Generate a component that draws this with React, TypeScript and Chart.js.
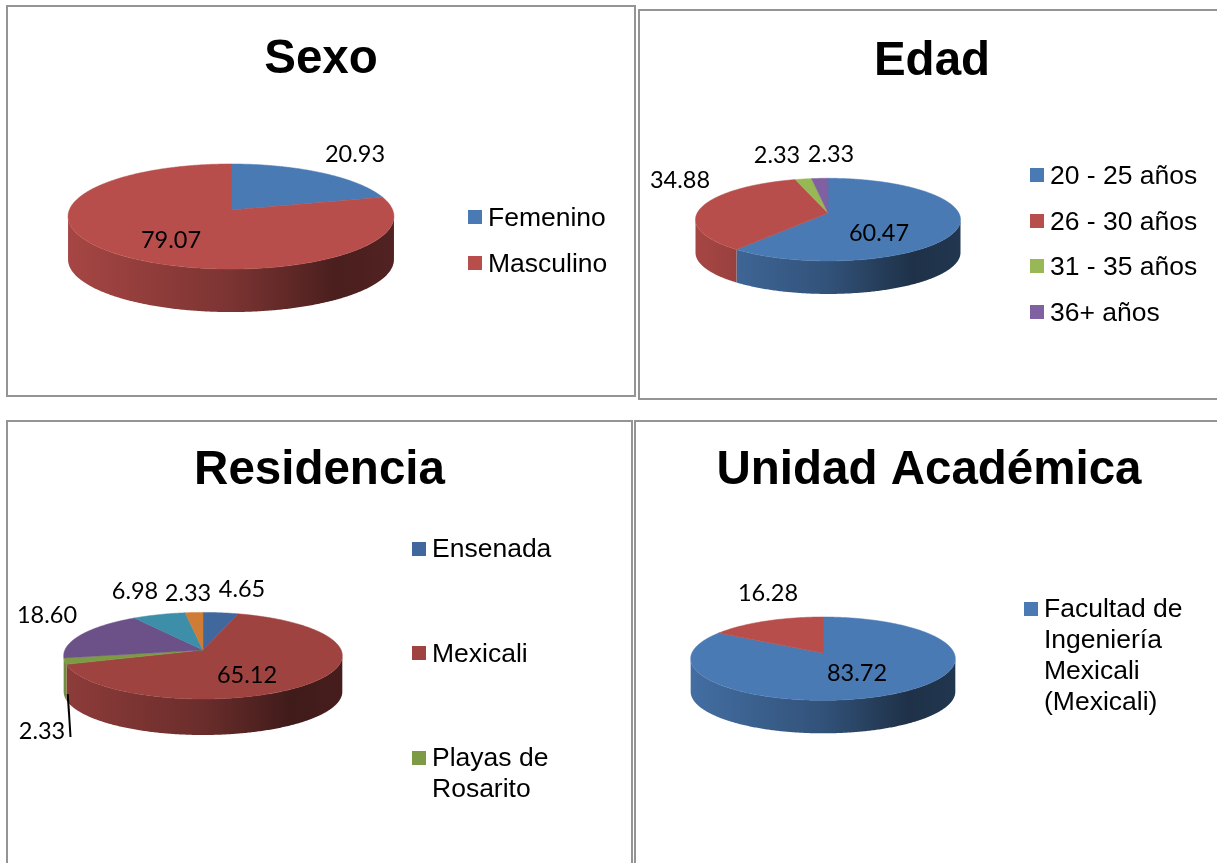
import { useEffect, useRef } from "react";
import { Chart, registerables } from "chart.js";

Chart.register(...registerables);

// ---- data ----
const sexoLabels = ["Femenino", "Masculino"];
const sexoValues = [20.93, 79.07];

const edadLabels = ["20 - 25 años", "26 - 30 años", "31 - 35 años", "36+ años"];
const edadValues = [60.47, 34.88, 2.33, 2.33];

// only the first three legend entries are visible in the picture
const residenciaLabels = ["Ensenada", "Mexicali", "Playas de\nRosarito", "", "", ""];
const residenciaValues = [4.65, 65.12, 2.33, 18.6, 6.98, 2.33];

const unidadLabels = ["Facultad de\nIngeniería\nMexicali\n(Mexicali)", ""];
const unidadValues = [83.72, 16.28];

// ---- styling ----
const brightColors = ["#4A7AB4", "#B84E4B", "#98B855", "#7F60A0"];
const residenciaColors = ["#41689C", "#9E4340", "#7D9B45", "#6B5188", "#3D8EA8", "#CF7C36"];
const TITLE_LH = 57;

type PanelCfg = {
  title: string; labels: string[]; values: number[]; colors: string[];
  left: number; top: number; w: number; h: number;
  titleY: number; hub: [number, number]; radius: number; tilt: number; persp: number; depth: number;
  labelOffsets: [number, number][];
  leader?: { index: number; end: [number, number] };
  legendX: number; legendYs: number[];
};

const panels: PanelCfg[] = [
  {
    title: "Sexo", labels: sexoLabels, values: sexoValues, colors: brightColors,
    left: 6, top: 5, w: 630, h: 392, titleY: 59.5, hub: [231, 210], radius: 161.7, tilt: 0.32, persp: 0.124, depth: 43,
    labelOffsets: [[124, -56], [-60, 30]],
    legendX: 468, legendYs: [217, 263],
  },
  {
    title: "Edad", labels: edadLabels, values: edadValues, colors: brightColors,
    left: 638, top: 9, w: 588, h: 391, titleY: 61.5, hub: [828, 213], radius: 130.8, tilt: 0.308, persp: 0.16, depth: 33,
    labelOffsets: [[51, 20], [-148, -33], [-51, -58], [3, -59]],
    legendX: 1030, legendYs: [175, 221, 266, 312],
  },
  {
    title: "Residencia", labels: residenciaLabels, values: residenciaValues, colors: residenciaColors,
    left: 6, top: 420, w: 627, h: 460, titleY: 471, hub: [203, 650], radius: 138.1, tilt: 0.308, persp: 0.132, depth: 36,
    labelOffsets: [[39, -61], [44, 25], [-161, 81], [-156, -35], [-68, -59], [-15, -57]],
    leader: { index: 2, end: [-132.5, 87] },
    legendX: 412, legendYs: [548.5, 653, 773],
  },
  {
    title: "Unidad Académica", labels: unidadLabels, values: unidadValues, colors: brightColors,
    left: 634, top: 420, w: 590, h: 460, titleY: 471, hub: [823, 653], radius: 131.1, tilt: 0.312, persp: 0.136, depth: 33,
    labelOffsets: [[34, 20], [-55, -60]],
    legendX: 1024, legendYs: [655],
  },
];

function shade(hex: string, f: number) {
  const n = parseInt(hex.slice(1), 16);
  const r = Math.round(((n >> 16) & 255) * f);
  const g = Math.round(((n >> 8) & 255) * f);
  const b = Math.round((n & 255) * f);
  return `rgb(${r},${g},${b})`;
}

const pie3d = (cfg: PanelCfg) => ({
  id: "pie3d",
  afterLayout(chart: any) {
    // the title spans the whole panel, whatever padding places the pie
    if (chart.titleBlock) {
      chart.titleBlock.left = 0;
      chart.titleBlock.right = chart.width;
      chart.titleBlock.width = chart.width;
    }
  },
  beforeDatasetDraw(chart: any) {
    const ctx: CanvasRenderingContext2D = chart.ctx;
    const arcs = chart.getDatasetMeta(0).data as any[];
    const { persp: p, tilt, depth } = cfg;
    const pt = (el: any, a: number, dy = 0): [number, number] => {
      const R = el.outerRadius, B = R * tilt;
      const s = Math.sin(a), c = Math.cos(a), w = 1 - p * s;
      return [el.x + (R * c) / w, el.y + (B * s) / w + dy];
    };
    const sample = (a0: number, a1: number) => {
      const out: number[] = [];
      const n = Math.max(2, Math.ceil(Math.abs(a1 - a0) / 0.01));
      for (let i = 0; i <= n; i++) out.push(a0 + ((a1 - a0) * i) / n);
      return out;
    };
    const front0 = Math.asin(p);
    const front1 = Math.PI - front0;
    const first = arcs[0];
    const xL = first.x - first.outerRadius / Math.sqrt(1 - p * p);
    const xR = first.x + first.outerRadius / Math.sqrt(1 - p * p);

    // side wall
    arcs.forEach((el, i) => {
      const a = Math.max(el.startAngle, front0);
      const b = Math.min(el.endAngle, front1);
      if (b <= a) return;
      const g = ctx.createLinearGradient(xL, 0, xR, 0);
      g.addColorStop(0, shade(cfg.colors[i], 0.9));
      g.addColorStop(0.5, shade(cfg.colors[i], 0.67));
      g.addColorStop(0.82, shade(cfg.colors[i], 0.4));
      g.addColorStop(1, shade(cfg.colors[i], 0.44));
      ctx.beginPath();
      const angles = sample(a, b);
      angles.forEach((t, k) => {
        const [x, y] = pt(el, t);
        if (k === 0) ctx.moveTo(x, y); else ctx.lineTo(x, y);
      });
      angles.slice().reverse().forEach((t) => {
        const [x, y] = pt(el, t, depth);
        ctx.lineTo(x, y);
      });
      ctx.closePath();
      ctx.fillStyle = g;
      ctx.fill();
    });

    // top face
    arcs.forEach((el, i) => {
      ctx.beginPath();
      ctx.moveTo(el.x, el.y);
      sample(el.startAngle, el.endAngle).forEach((t) => {
        const [x, y] = pt(el, t);
        ctx.lineTo(x, y);
      });
      ctx.closePath();
      ctx.fillStyle = cfg.colors[i];
      ctx.strokeStyle = cfg.colors[i];
      ctx.lineWidth = 0.5;
      ctx.fill();
      ctx.stroke();
    });
    return false;
  },
  afterDraw(chart: any) {
    const ctx: CanvasRenderingContext2D = chart.ctx;
    const arcs = chart.getDatasetMeta(0).data as any[];
    const hx = arcs[0].x, hy = arcs[0].y;
    ctx.save();
    ctx.fillStyle = "#000";
    ctx.font = "23.5px Lato";
    ctx.textAlign = "center";
    ctx.textBaseline = "middle";
    cfg.values.forEach((v, i) => {
      const [dx, dy] = cfg.labelOffsets[i];
      ctx.fillText(v.toFixed(2), hx + dx, hy + dy);
    });
    if (cfg.leader) {
      const el = arcs[cfg.leader.index];
      const a = (el.startAngle + el.endAngle) / 2;
      const s = Math.sin(a), w = 1 - cfg.persp * s;
      const sx = el.x + (el.outerRadius * Math.cos(a)) / w + 3;
      const sy = el.y + (el.outerRadius * cfg.tilt * s) / w + cfg.depth - 3;
      ctx.strokeStyle = "#000";
      ctx.lineWidth = 2;
      ctx.beginPath();
      ctx.moveTo(sx, sy);
      ctx.lineTo(hx + cfg.leader.end[0], hy + cfg.leader.end[1]);
      ctx.stroke();
    }
    ctx.restore();
  },
});

function Panel({ cfg }: { cfg: PanelCfg }) {
  const ref = useRef<HTMLCanvasElement>(null);
  useEffect(() => {
    if (!ref.current) return;
    const titlePad = cfg.titleY - cfg.top - TITLE_LH / 2;
    const hx = cfg.hub[0] - cfg.left;
    const hy = cfg.hub[1] - cfg.top;
    const T = titlePad + TITLE_LH;
    const padB = cfg.h - (2 * hy - T);
    const padR = Math.max(0, cfg.w - 2 * hx);
    const padL = Math.max(0, 2 * hx - cfg.w);
    const chart = new Chart(ref.current, {
      type: "pie",
      data: {
        labels: cfg.labels,
        datasets: [{ data: cfg.values, backgroundColor: cfg.colors, borderWidth: 0 }],
      },
      options: {
        responsive: false,
        animation: false,
        radius: cfg.radius,
        layout: { padding: { left: padL, right: padR, top: 0, bottom: padB } },
        plugins: {
          legend: { display: false },
          tooltip: { enabled: false },
          title: {
            display: true,
            text: cfg.title,
            color: "#000",
            font: { family: "'Liberation Sans'", size: 47.5, weight: "bold", lineHeight: TITLE_LH + "px" },
            padding: { top: titlePad, bottom: 0 },
          },
        },
      } as any,
      plugins: [pie3d(cfg)],
    });
    return () => chart.destroy();
  }, [cfg]);

  const entries = cfg.labels
    .map((label, i) => ({ label, color: cfg.colors[i] }))
    .filter((e) => e.label !== "");

  return (
    <>
      <div
        style={{
          position: "absolute", left: cfg.left, top: cfg.top, width: cfg.w, height: cfg.h,
          boxSizing: "border-box", border: "2px solid #949494", background: "#fff",
        }}
      />
      <canvas
        ref={ref}
        width={cfg.w}
        height={cfg.h}
        style={{ position: "absolute", left: cfg.left, top: cfg.top, width: cfg.w, height: cfg.h }}
      />
      {entries.map((e, i) => {
        const lines = e.label.split("\n");
        const y = cfg.legendYs[i];
        const firstLine = y - ((lines.length - 1) * 31) / 2;
        return (
          <div key={i}>
            <div style={{ position: "absolute", left: cfg.legendX, top: firstLine - 7, width: 14, height: 14, background: e.color }} />
            <div
              style={{
                position: "absolute", left: cfg.legendX + 20, top: firstLine - 15.5,
                font: "26.5px/31px 'Liberation Sans'", color: "#000", whiteSpace: "pre",
              }}
            >
              {e.label}
            </div>
          </div>
        );
      })}
    </>
  );
}

export default function App() {
  return (
    <div style={{ position: "fixed", left: 0, top: 0, width: 1217, height: 863, overflow: "hidden", background: "#fff" }}>
      {panels.map((p) => <Panel key={p.title} cfg={p} />)}
    </div>
  );
}
